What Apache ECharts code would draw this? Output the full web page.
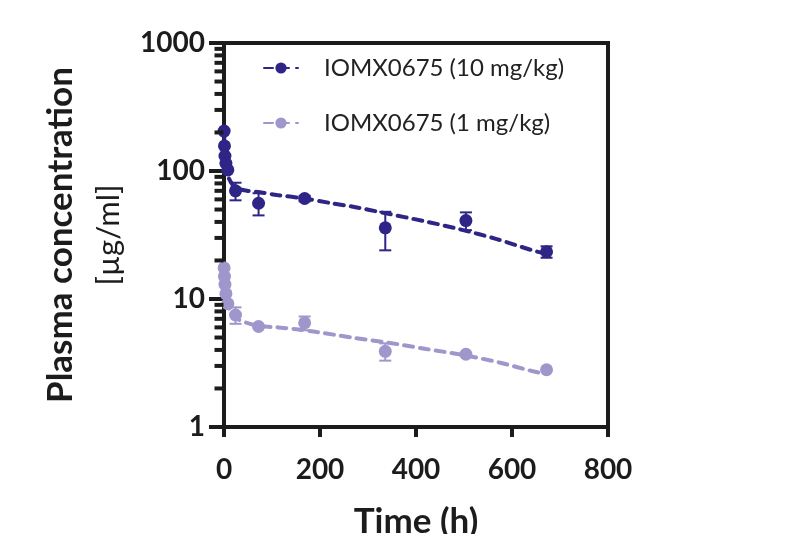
<!DOCTYPE html>
<html>
<head>
<meta charset="utf-8">
<script src="https://cdn.jsdelivr.net/npm/echarts@6/dist/echarts.min.js"></script>
<style>
html,body{margin:0;padding:0;background:#fff;}
#main{width:812px;height:534px;}
</style>
</head>
<body>
<div id="main"></div>
<script>
// ---- data ----
const seriesNames = ['IOMX0675 (10 mg/kg)', 'IOMX0675 (1 mg/kg)'];
const times = [0.25, 1, 2, 4, 8, 24, 72, 168, 336, 504, 672];
const mean10 = [205, 157, 131, 115, 102, 70, 56, 61, 36, 41, 23.4];
const sd10 = [0, 0, 0, 0, 0, 11, 11, 3, 12, 6.5, 2.4];
const mean1 = [17.5, 15, 13, 11, 9.2, 7.5, 6.1, 6.5, 3.9, 3.7, 2.8];
const sd1 = [0, 0, 0, 0, 0, 1.1, 0, 0.8, 0.6, 0, 0];

const fitTimes10 = [0, 1, 2, 4, 8, 16, 24, 48, 72, 110, 165, 224, 269, 337, 415, 492, 568, 641, 672];
const fit10 = [205, 165, 140, 115, 92, 80, 74, 70, 68.5, 65, 61.2, 56, 52.6, 46.7, 40.7, 35, 29.4, 24.1, 22.5];
const fitTimes1 = [0, 1, 2, 4, 8, 16, 24, 48, 72, 113, 151, 190, 266, 342, 421, 499, 575, 648, 672];
const fit1 = [17.5, 15, 13, 11, 9, 7.7, 7.1, 6.5, 6.15, 6.0, 5.8, 5.55, 5.0, 4.56, 4.07, 3.65, 3.18, 2.7, 2.6];

const xTicks = [0, 200, 400, 600, 800];
const yTicks = [1, 10, 100, 1000];
const minorMultipliers = [2, 3, 4, 5, 6, 7, 8, 9];

// ---- build ----
const colors = ['#2e2586', '#9f97cb'];
const axisColor = '#1c1c1c';
const FONT = 'Lato';

const pts = (xs, ys) => xs.map((x, i) => [x, ys[i]]);
const errs = (xs, ys, sds) => xs.map((x, i) => [x, ys[i], sds[i]]).filter(d => d[2] > 0);
const minorVals = [];
for (let i = 0; i < yTicks.length - 1; i++) minorMultipliers.forEach(m => minorVals.push(m * yTicks[i]));

function errRender(color) {
  return function (params, api) {
    const t = api.value(0), m = api.value(1), s = api.value(2);
    const top = api.coord([t, m + s]);
    const bot = api.coord([t, Math.max(m - s, 1e-6)]);
    const w = 6;
    const st = { stroke: color, lineWidth: 2 };
    return {
      type: 'group',
      children: [
        { type: 'line', shape: { x1: top[0], y1: top[1], x2: bot[0], y2: bot[1] }, style: st },
        { type: 'line', shape: { x1: top[0] - w, y1: top[1], x2: top[0] + w, y2: top[1] }, style: st },
        { type: 'line', shape: { x1: bot[0] - w, y1: bot[1], x2: bot[0] + w, y2: bot[1] }, style: st }
      ]
    };
  };
}

const chart = echarts.init(document.getElementById('main'), null, { renderer: 'canvas' });
const lineStyleFor = c => ({ color: c, width: 4, type: [9, 7], cap: 'round' });

chart.setOption({
  animation: false,
  backgroundColor: '#fff',
  legend: {
    orient: 'vertical',
    left: 258,
    top: 51,
    itemWidth: 34,
    itemHeight: 14,
    itemGap: 31,
    data: seriesNames,
    textStyle: { fontFamily: FONT, fontSize: 24, lineHeight: 20, color: '#222', padding: [0, 0, 0, 21] }
  },
  grid: {
    left: 224, right: 204, top: 43, bottom: 107,
    containLabel: false, outerBoundsMode: 'none',
    show: true, borderColor: axisColor, borderWidth: 4, backgroundColor: 'transparent'
  },
  xAxis: {
    type: 'value', min: xTicks[0], max: xTicks[xTicks.length - 1], interval: 200,
    axisLine: { lineStyle: { color: axisColor, width: 4 } },
    axisTick: { length: 10, lineStyle: { color: axisColor, width: 4 } },
    axisLabel: { fontFamily: FONT, fontWeight: 'bold', fontSize: 28, color: axisColor, margin: 29 },
    splitLine: { show: false },
    name: 'Time (h)', nameLocation: 'middle', nameGap: 77,
    nameTextStyle: { fontFamily: FONT, fontWeight: 'bold', fontSize: 35, color: axisColor }
  },
  yAxis: {
    type: 'log', logBase: 10, min: yTicks[0], max: yTicks[yTicks.length - 1],
    axisLine: { lineStyle: { color: axisColor, width: 4 } },
    axisTick: { length: 15, lineStyle: { color: axisColor, width: 4 } },
    axisLabel: { fontFamily: FONT, fontWeight: 'bold', fontSize: 28, color: axisColor, margin: 19,
      formatter: v => String(v) },
    splitLine: { show: false },
    name: '{a|Plasma concentration}\n{b|[µg/ml]}',
    nameLocation: 'middle', nameRotate: 90, nameGap: 91,
    nameTextStyle: {
      color: axisColor,
      rich: {
        a: { fontFamily: FONT, fontWeight: 'bold', fontSize: 35, color: axisColor, lineHeight: 48 },
        b: { fontFamily: FONT, fontSize: 31, color: axisColor, lineHeight: 48 }
      }
    }
  },
  series: [
    {
      name: seriesNames[0], type: 'line', data: pts(fitTimes10, fit10),
      symbol: 'circle', symbolSize: 13, showSymbol: false, smooth: 0.3,
      itemStyle: { color: colors[0] }, lineStyle: lineStyleFor(colors[0]), z: 3
    },
    {
      name: seriesNames[1], type: 'line', data: pts(fitTimes1, fit1),
      symbol: 'circle', symbolSize: 13, showSymbol: false, smooth: 0.3,
      itemStyle: { color: colors[1] }, lineStyle: lineStyleFor(colors[1]), z: 3
    },
    {
      name: seriesNames[0], type: 'scatter', data: pts(times, mean10),
      symbol: 'circle', symbolSize: 13, itemStyle: { color: colors[0], opacity: 1 }, z: 4
    },
    {
      name: seriesNames[1], type: 'scatter', data: pts(times, mean1),
      symbol: 'circle', symbolSize: 13, itemStyle: { color: colors[1], opacity: 1 }, z: 4
    },
    {
      name: seriesNames[0], type: 'custom', data: errs(times, mean10, sd10),
      renderItem: errRender(colors[0]), z: 4, encode: { x: 0, y: 1 }
    },
    {
      name: seriesNames[1], type: 'custom', data: errs(times, mean1, sd1),
      renderItem: errRender(colors[1]), z: 4, encode: { x: 0, y: 1 }
    },
    {
      // minor ticks of the log y axis, placed by the axis' own scale
      name: 'minorTicks', type: 'scatter', data: minorVals.map(v => [xTicks[0], v]),
      symbol: 'rect', symbolSize: [9, 4], symbolOffset: [-5, 0], clip: false, silent: true,
      itemStyle: { color: axisColor, opacity: 1 }, z: 6
    }
  ]
});
</script>
</body>
</html>
